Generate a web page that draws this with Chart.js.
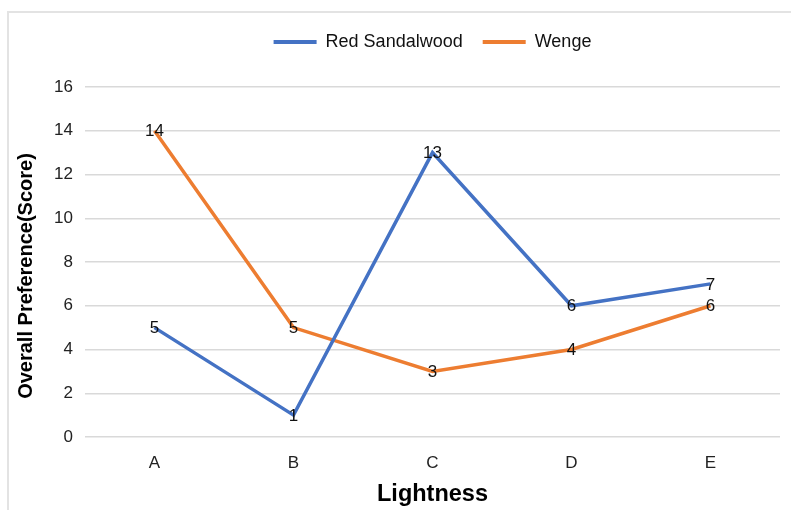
<!DOCTYPE html>
<html>
<head>
<meta charset="utf-8">
<script src="https://cdn.jsdelivr.net/npm/chart.js@4/dist/chart.umd.min.js"></script>
<style>
  html, body { margin: 0; padding: 0; background: #ffffff; }
  #wrap { position: relative; width: 791px; height: 510px; overflow: hidden; }
  #frame { position: absolute; left: 7px; top: 11px; width: 820px; height: 540px;
           border: 2px solid #e3e3e3; box-sizing: border-box; }
  #c { position: absolute; left: 0; top: 0; }
</style>
</head>
<body>
<div id="wrap">
  <div id="frame"></div>
  <canvas id="c" width="791" height="510"></canvas>
</div>
<script>
const categories = ['A', 'B', 'C', 'D', 'E'];
const redSandalwood = [5, 1, 13, 6, 7];
const wenge = [14, 5, 3, 4, 6];
const yTicks = [0, 2, 4, 6, 8, 10, 12, 14, 16];
const yTitle = 'Overall Preference(Score)';

const BLUE = '#4472C4';
const ORANGE = '#ED7D31';
const FONT = "'Liberation Sans', Arial, sans-serif";

// Writes each point's value centred on the point itself
const pointValues = {
  id: 'pointValues',
  afterDatasetsDraw(chart) {
    const ctx = chart.ctx;
    ctx.save();
    ctx.font = '17px ' + FONT;
    ctx.fillStyle = '#111111';
    ctx.textAlign = 'center';
    ctx.textBaseline = 'middle';
    chart.data.datasets.forEach((ds, di) => {
      const meta = chart.getDatasetMeta(di);
      meta.data.forEach((pt, i) => {
        ctx.fillText(String(ds.data[i]), pt.x, pt.y + 1);
      });
    });
    ctx.restore();
  }
};

// Vertical value-axis title, sitting a little below the plot's middle
const sideTitle = {
  id: 'sideTitle',
  afterDraw(chart) {
    const ctx = chart.ctx;
    const y = (chart.chartArea.top + chart.chartArea.bottom) / 2 + 14;
    ctx.save();
    ctx.translate(26, y);
    ctx.rotate(-Math.PI / 2);
    ctx.font = 'bold 20px ' + FONT;
    ctx.fillStyle = '#000000';
    ctx.textAlign = 'center';
    ctx.textBaseline = 'middle';
    ctx.fillText(yTitle, 0, 0);
    ctx.restore();
  }
};

// Leaves some empty space between the legend row and the plot
const legendGap = {
  id: 'legendGap',
  beforeInit(chart) {
    const fit = chart.legend.fit;
    chart.legend.fit = function () {
      fit.call(this);
      this.height += 26;
    };
  }
};

new Chart(document.getElementById('c'), {
  type: 'line',
  data: {
    labels: categories,
    datasets: [
      { label: 'Red Sandalwood', data: redSandalwood, borderColor: BLUE, backgroundColor: BLUE,
        borderWidth: 3.5, pointRadius: 0, pointHoverRadius: 0, tension: 0 },
      { label: 'Wenge', data: wenge, borderColor: ORANGE, backgroundColor: ORANGE,
        borderWidth: 3.5, pointRadius: 0, pointHoverRadius: 0, tension: 0 }
    ]
  },
  options: {
    responsive: false,
    animation: false,
    events: [],
    layout: { padding: { left: 0, right: 11, top: 13, bottom: 0 } },
    plugins: {
      tooltip: { enabled: false },
      legend: {
        position: 'top',
        fullSize: false,
        labels: {
          font: { family: FONT, size: 18 },
          color: '#111111',
          boxWidth: 43,
          boxHeight: 4,
          padding: 20,
          generateLabels(chart) {
            return Chart.defaults.plugins.legend.labels.generateLabels(chart).map(item => {
              const ds = chart.data.datasets[item.datasetIndex];
              item.fillStyle = ds.borderColor;
              item.lineWidth = 0;
              return item;
            });
          }
        }
      }
    },
    scales: {
      x: {
        offset: true,
        grid: { display: false },
        border: { display: false },
        ticks: { font: { family: FONT, size: 17 }, color: '#222222', padding: 8 },
        title: { display: true, text: 'Lightness', color: '#000000',
                 font: { family: FONT, size: 23.5, weight: 'bold' }, padding: { top: 0, bottom: 1 } },
        afterFit(scale) { scale.height = 73; }
      },
      y: {
        min: 0,
        max: 16,
        afterBuildTicks(scale) { scale.ticks = yTicks.map(v => ({ value: v })); },
        grid: { color: '#d9d9d9', lineWidth: 1.5, drawTicks: false },
        border: { display: false },
        ticks: { font: { family: FONT, size: 17 }, color: '#222222', padding: 12 },
        afterFit(scale) { scale.width = 85; }
      }
    }
  },
  plugins: [pointValues, sideTitle, legendGap]
});
</script>
</body>
</html>
